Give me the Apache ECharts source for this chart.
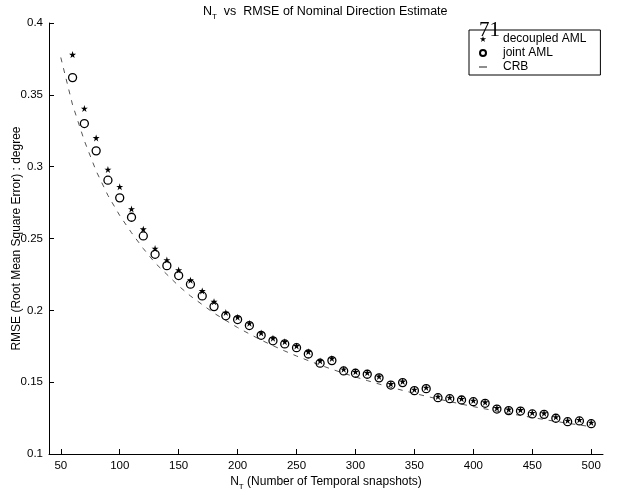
<!DOCTYPE html>
<html>
<head>
<meta charset="utf-8">
<script src="https://cdn.jsdelivr.net/npm/echarts@6.0.0/dist/echarts.min.js"></script>
<style>
html,body{margin:0;padding:0;background:#fff;}
#chart{width:626px;height:496px;}
</style>
</head>
<body>
<div id="chart"></div>
<script>
// ---- data ----
const nT = [60,70,80,90,100,110,120,130,140,150,160,170,180,190,200,210,220,230,240,250,
            260,270,280,290,300,310,320,330,340,350,360,370,380,390,400,410,420,430,440,450,
            460,470,480,490,500];
const decoupledAML = [0.378,0.3405,0.320,0.298,0.286,0.2705,0.2565,0.243,0.235,0.228,
                      0.221,0.2135,0.206,0.1985,0.1952,0.191,0.1842,0.1806,0.1782,0.1752,
                      0.1712,0.1648,0.1665,0.1590,0.1572,0.1565,0.1540,0.1488,0.1505,0.1449,
                      0.1463,0.1400,0.1393,0.1384,0.1372,0.1361,0.1321,0.1310,0.1307,0.1287,
                      0.1284,0.1257,0.1233,0.1238,0.1219];
const jointAML = [0.362,0.330,0.311,0.2906,0.2783,0.2648,0.2518,0.239,0.2311,0.2242,
                  0.2182,0.2100,0.2026,0.1962,0.1936,0.1894,0.1826,0.1788,0.1766,0.1740,
                  0.1696,0.1632,0.1650,0.1578,0.1562,0.1555,0.1530,0.1480,0.1497,0.1441,
                  0.1455,0.1392,0.1385,0.1376,0.1364,0.1353,0.1313,0.1302,0.1299,0.1279,
                  0.1276,0.1249,0.1225,0.1230,0.1211];
const crbN = [50,60,70,80,90,100,110,120,130,140,150,160,170,180,190,200,210,220,230,240,250,
              260,270,280,290,300,310,320,330,340,350,360,370,380,390,400,410,420,430,440,450,
              460,470,480,490,500];
const crbRMSE = [0.376,0.343,0.318,0.297,0.280,0.266,0.254,0.243,0.233,0.225,0.217,
                 0.210,0.204,0.198,0.193,0.188,0.1836,0.1793,0.1754,0.1717,0.1682,
                 0.1650,0.1619,0.1590,0.1562,0.1536,0.1511,0.1487,0.1464,0.1443,0.1422,
                 0.1402,0.1383,0.1365,0.1347,0.1330,0.1314,0.1298,0.1283,0.1268,0.1254,
                 0.1240,0.1227,0.1214,0.1202,0.1190];
const xTicks = [50,100,150,200,250,300,350,400,450,500];
const seriesNames = ['decoupled AML','joint AML','CRB'];
const titleText = 'N{sub|T}  vs  RMSE of Nominal Direction Estimate';
const xName = 'N{sub|T} (Number of Temporal snapshots)';
const yName = 'RMSE (Root Mean Square Error) : degree';
const pageMark = '71';

const FONT = '"Liberation Sans", Arial, Helvetica, sans-serif';
const STAR = 'path://M50,2 L61,36 L97,36 L68,57 L79,92 L50,70 L21,92 L32,57 L3,36 L39,36 Z';
const subRich = {
  sub: {fontSize: 8, fontFamily: FONT, color: '#000', verticalAlign: 'bottom', lineHeight: 18}
};

const chart = echarts.init(document.getElementById('chart'), null, {renderer: 'canvas'});
const option = {
  backgroundColor: '#fff',
  animation: false,
  title: {
    text: titleText,
    left: 198,
    top: -2,
    textStyle: {fontFamily: FONT, fontSize: 12.5, fontWeight: 'normal', color: '#000',
                lineHeight: 14, rich: subRich}
  },
  grid: {left: 49, right: 23, top: 23, bottom: 42, outerBoundsMode: 'none'},
  legend: {
    orient: 'vertical',
    left: 469,
    top: 30,
    padding: [3, 14, 2, 10],
    itemWidth: 8,
    itemHeight: 6,
    itemGap: 2,
    borderColor: '#000',
    borderWidth: 1,
    textStyle: {fontFamily: FONT, fontSize: 12, color: '#000', lineHeight: 12, padding: [0, 0, 0, 11]},
    data: [
      {name: seriesNames[0], icon: STAR},
      {name: seriesNames[1], icon: 'circle'},
      {name: seriesNames[2], icon: 'path://M0,0 L6,0 L6,1 L0,1 Z'}
    ]
  },
  xAxis: {
    type: 'value',
    min: 40,
    max: 510,
    name: xName,
    nameLocation: 'middle',
    nameGap: 19,
    nameMoveOverlap: false,
    nameTextStyle: {fontFamily: FONT, fontSize: 12, color: '#000', lineHeight: 14, rich: subRich},
    axisLine: {show: true, lineStyle: {color: '#000', width: 1}},
    axisTick: {show: true, inside: true, length: 5, customValues: xTicks, lineStyle: {color: '#000'}},
    axisLabel: {customValues: xTicks, fontFamily: FONT, fontSize: 11.5, color: '#000', margin: 6},
    splitLine: {show: false}
  },
  yAxis: {
    type: 'value',
    min: 0.1,
    max: 0.4,
    interval: 0.05,
    name: yName,
    nameLocation: 'middle',
    nameGap: 26,
    nameMoveOverlap: false,
    nameRotate: 90,
    nameTextStyle: {fontFamily: FONT, fontSize: 12, color: '#000'},
    axisLine: {show: true, lineStyle: {color: '#000', width: 1}},
    axisTick: {show: true, inside: true, length: 5, lineStyle: {color: '#000'}},
    axisLabel: {fontFamily: FONT, fontSize: 11.5, color: '#000', margin: 6,
                formatter: v => String(+v.toFixed(2))},
    splitLine: {show: false}
  },
  series: [
    {
      name: seriesNames[2],
      type: 'line',
      data: crbN.map((n, i) => [n, crbRMSE[i]]),
      showSymbol: false,
      smooth: false,
      lineStyle: {color: '#555', width: 1, type: [5, 6]},
      itemStyle: {color: '#555'},
      z: 1
    },
    {
      name: seriesNames[1],
      type: 'scatter',
      data: nT.map((n, i) => [n, jointAML[i]]),
      symbol: 'circle',
      symbolSize: 8,
      itemStyle: {color: 'rgba(0,0,0,0)', borderColor: '#000', borderWidth: 1.3, opacity: 1},
      z: 2
    },
    {
      name: seriesNames[0],
      type: 'scatter',
      data: nT.map((n, i) => [n, decoupledAML[i]]),
      symbol: STAR,
      symbolSize: 7,
      itemStyle: {color: '#000', opacity: 1},
      z: 3
    }
  ],
  graphic: [
    {type: 'text', left: 479, top: 20, z: 100,
     style: {text: pageMark, font: '21px "Liberation Serif", "DejaVu Serif", serif', fill: '#000'}}
  ]
};
chart.setOption(option);
</script>
</body>
</html>
